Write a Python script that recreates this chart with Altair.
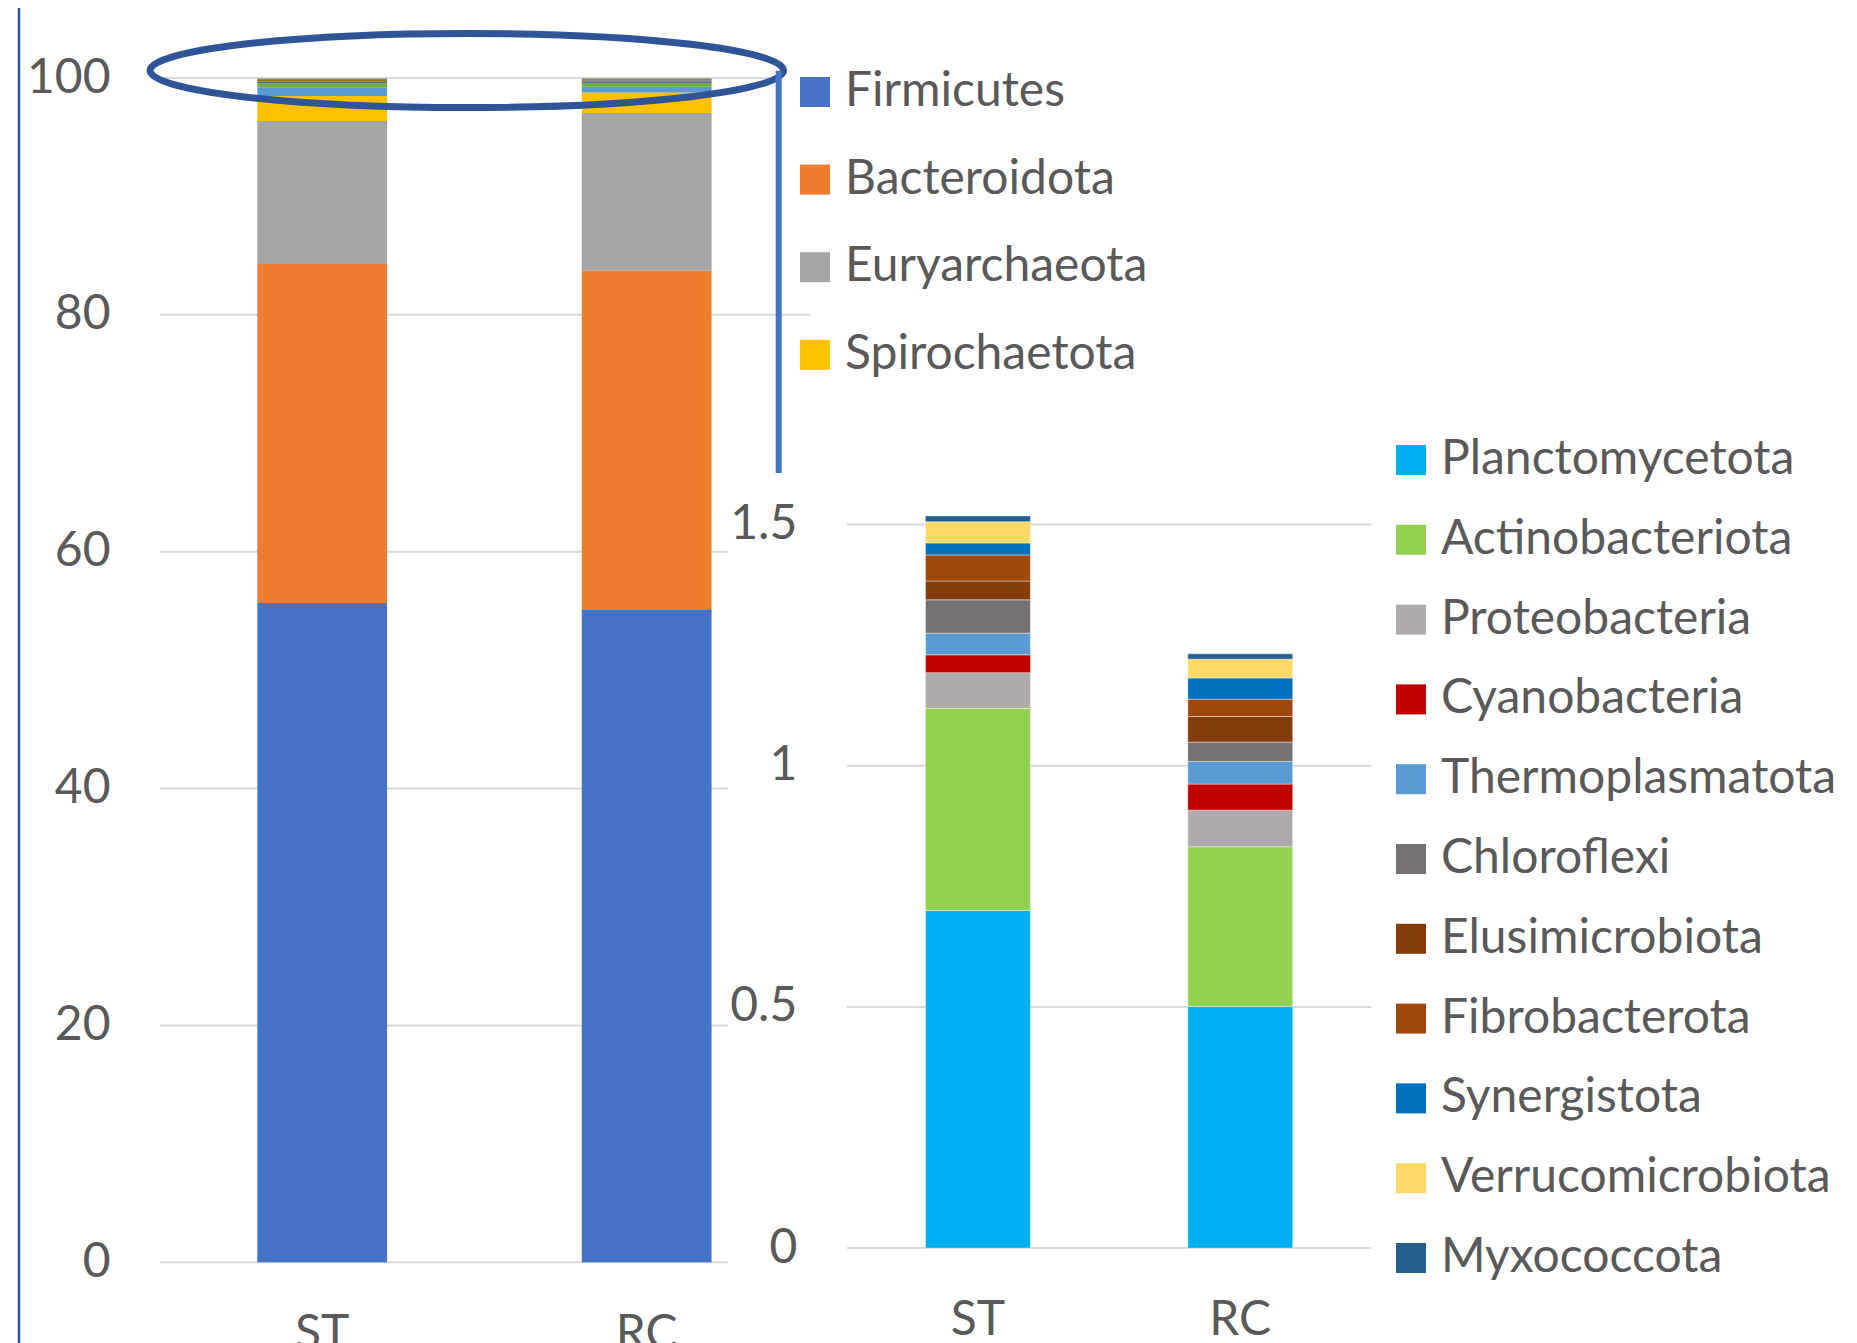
import altair as alt
import pandas as pd

# ---------------- data ----------------
categories = ["ST", "RC"]

main_phyla = ["Firmicutes", "Bacteroidota", "Euryarchaeota", "Spirochaetota"]
main_st = [55.67, 28.63, 12.07, 2.11]
main_rc = [55.14, 28.59, 13.31, 1.73]

minor_phyla = ["Planctomycetota", "Actinobacteriota", "Proteobacteria", "Cyanobacteria",
               "Thermoplasmatota", "Chloroflexi", "Elusimicrobiota", "Fibrobacterota",
               "Synergistota", "Verrucomicrobiota", "Myxococcota"]
minor_st = [0.700, 0.419, 0.074, 0.037, 0.045, 0.069, 0.039, 0.054, 0.025, 0.044, 0.012]
minor_rc = [0.501, 0.331, 0.076, 0.054, 0.047, 0.040, 0.053, 0.036, 0.044, 0.039, 0.011]

left_colors = ["#4472C4", "#ED7D31", "#A5A5A5", "#FFC000", "#5B9BD5", "#70AD47",
               "#264478", "#9E480E", "#636363", "#997300", "#255E91", "#43682B",
               "#698ED0", "#F1975A", "#B7B7B7"]
right_colors = ["#00B0F0", "#92D050", "#AEAAAA", "#C00000", "#5B9BD5", "#767171",
                "#843C0C", "#9E480E", "#0070C0", "#FFD966", "#255E91"]

left_ticks = [0, 20, 40, 60, 80, 100]
right_ticks = [0, 0.5, 1, 1.5]

# ---------------- tables ----------------
all_left = main_phyla + minor_phyla
rows = []
for cat, mvals, nvals in [("ST", main_st, minor_st), ("RC", main_rc, minor_rc)]:
    for i, (p, v) in enumerate(zip(all_left, mvals + nvals)):
        rows.append({"sample": cat, "phylum": p, "value": v, "idx": i})
left_df = pd.DataFrame(rows)

rows = []
for cat, nvals in [("ST", minor_st), ("RC", minor_rc)]:
    for i, (p, v) in enumerate(zip(minor_phyla, nvals)):
        rows.append({"sample": cat, "phylum": p, "value": v, "idx": i})
right_df = pd.DataFrame(rows)

grid_lo = pd.DataFrame({"g": [v for v in left_ticks if v <= 60]})
grid_80 = pd.DataFrame({"g": [80]})
grid_100 = pd.DataFrame({"g": [100]})
grid_r = pd.DataFrame({"g": right_ticks})
one = pd.DataFrame({"a": [0]})

# ---------------- layout (pixels, plot-local) ----------------
W, H = 1689, 1250
FONT = "Lato"
TXT = "#595959"
GRID = "#D9D9D9"

LX0, LX1 = 0, 648.9
LY0, LY1 = 1184.3, 0
RX0, RX1 = 686.8, 1211.4
RY0, RY1 = 1170.1, 446.6

ly_scale = alt.Scale(domain=[0, 100], range=[LY0, LY1], nice=False, zero=True)
ry_scale = alt.Scale(domain=[0, 1.5], range=[RY0, RY1], nice=False, zero=True)
lx_scale = alt.Scale(domain=categories, range=[LX0, LX1], paddingInner=0.6, paddingOuter=0.3)
rx_scale = alt.Scale(domain=categories, range=[RX0, RX1], paddingInner=0.6, paddingOuter=0.3)

axis_common = dict(labelFont=FONT, labelFontSize=48, labelColor=TXT, domain=False,
                   ticks=False, grid=False, title=None)

legend_common = dict(orient="none", title=None, symbolType="square", symbolSize=900,
                     symbolStrokeWidth=0, labelFont=FONT, labelFontSize=48,
                     labelColor=TXT, labelOffset=6, padding=0, labelLimit=0)

def gridrule(df, scale, x1, x2):
    return alt.Chart(df).mark_rule(color=GRID, strokeWidth=2).encode(
        y=alt.Y("g:Q", scale=scale, axis=None),
        x=alt.value(x1), x2=alt.value(x2))

g1 = gridrule(grid_lo, ly_scale, LX0, 568)
g2 = gridrule(grid_80, ly_scale, LX0, 650)
g3 = gridrule(grid_100, ly_scale, LX0, 619)
g4 = gridrule(grid_r, ry_scale, RX0, RX1)

left_bars = alt.Chart(left_df).mark_bar().encode(
    x=alt.X("sample:N", scale=lx_scale,
            axis=alt.Axis(orient="bottom", offset=LY0 - H, labelAngle=0, labelPadding=48,
                          **axis_common)),
    y=alt.Y("value:Q", stack="zero", scale=ly_scale,
            axis=alt.Axis(orient="left", values=left_ticks, format="d", labelPadding=50,
                          **axis_common)),
    color=alt.Color("phylum:N", scale=alt.Scale(domain=all_left, range=left_colors),
                    legend=alt.Legend(values=main_phyla, legendX=631, legendY=-10,
                                      rowPadding=39.6, **legend_common)),
    order=alt.Order("idx:Q", sort="ascending"),
)

right_bars = alt.Chart(right_df).mark_bar(stroke="white", strokeWidth=0.8, strokeOpacity=0.5).encode(
    x=alt.X("sample:N", scale=rx_scale,
            axis=alt.Axis(orient="bottom", offset=RY0 - H, labelAngle=0, labelPadding=48,
                          **axis_common)),
    y=alt.Y("value:Q", stack="zero", scale=ry_scale,
            axis=alt.Axis(orient="left", offset=-RX0, values=right_ticks, format="~g",
                          labelPadding=50, **axis_common)),
    color=alt.Color("phylum:N", scale=alt.Scale(domain=minor_phyla, range=right_colors),
                    legend=alt.Legend(legendX=1227, legendY=358, rowPadding=31.8,
                                      **legend_common)),
    order=alt.Order("idx:Q", sort="ascending"),
)

# decorations
k = 0.117
kk = 0.5523
ELLIPSE = (f"M -1 0 C -1 {-k*kk:.4f} {-kk} {-k} 0 {-k} C {kk} {-k} 1 {-k*kk:.4f} 1 0 "
           f"C 1 {k*kk:.4f} {kk} {k} 0 {k} C {-kk} {k} -1 {k*kk:.4f} -1 0 Z")
ellipse = alt.Chart(one).mark_point(shape=ELLIPSE, size=(2 * 316.7) ** 2, filled=False,
                                    stroke="#2F5597", strokeWidth=7, opacity=1).encode(
    x=alt.value(306.8), y=alt.value(-7.5))
vline = alt.Chart(one).mark_rule(color="#4472C4", strokeWidth=6).encode(
    x=alt.value(618.7), y=alt.value(-7.3), y2=alt.value(395))
border = alt.Chart(one).mark_rule(color="#2F5597", strokeWidth=2.5).encode(
    x=alt.value(-141), y=alt.value(-80), y2=alt.value(H + 40))

chart = alt.layer(
    g1, g2, g3, g4, left_bars, right_bars, ellipse, vline, border
).resolve_scale(
    x="independent", y="independent", color="independent"
).properties(
    width=W, height=H,
    autosize=alt.AutoSizeParams(type="none"),
    padding={"left": 152, "top": 70, "right": 0, "bottom": 30},
    background="white",
).configure_view(strokeWidth=0)

chart.save("out.html", embed_options={"renderer": "svg", "actions": False})
